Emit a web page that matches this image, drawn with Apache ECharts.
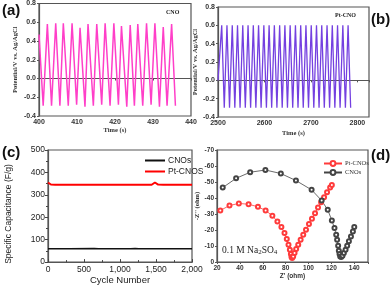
<!DOCTYPE html>
<html><head><meta charset="utf-8">
<script src="https://cdn.jsdelivr.net/npm/echarts@6/dist/echarts.min.js"></script>
<style>html,body{margin:0;padding:0;background:#fff}#c{width:392px;height:286px}</style>
</head><body><div id="c"></div>
<script>
// ---- Panel (a): CNO galvanostatic charge/discharge (turning points) ----
const aTime = [400, 401.1, 402.2, 403.3, 404.4, 405.5, 406.4, 407.7, 408.7, 409.9, 410.8, 412.1, 412.9, 414.3, 415.2, 416.5, 417.4, 418.7, 419.7, 420.9, 421.7, 423.1, 424.0, 425.1, 426.0, 427.3, 428.3, 429.5, 430.5, 431.7, 432.7, 433.7, 434.9, 435.9];
const aPot  = [0.47, -0.29, 0.58, -0.29, 0.59, -0.29, 0.59, -0.29, 0.59, -0.28, 0.54, -0.30, 0.58, -0.29, 0.58, -0.28, 0.59, -0.29, 0.59, -0.28, 0.56, -0.30, 0.57, -0.29, 0.58, -0.29, 0.59, -0.28, 0.59, -0.30, 0.55, -0.29, 0.58, -0.29];

// ---- Panel (b): Pt-CNO charge/discharge (turning points) ----
const bTime = [2500, 2508, 2513.5, 2519.3, 2524.8, 2530.7, 2536.2, 2542, 2547.5, 2553.3, 2558.8, 2564.7, 2570.2, 2576, 2581.5, 2587.3, 2592.8, 2598.7, 2604.2, 2610, 2615.5, 2621.3, 2626.8, 2632.7, 2638.2, 2644, 2649.5, 2655.3, 2660.8, 2666.7, 2672.2, 2678, 2683.5, 2689.3, 2694.8, 2700.7, 2706.2, 2712, 2717.5, 2723.3, 2728.8, 2734.7, 2740.2, 2746, 2751.5, 2757.3, 2762.8, 2768.7, 2774.2, 2780, 2785.5];
const bPot  = [0.00, 0.60, -0.30, 0.60, -0.30, 0.60, -0.30, 0.60, -0.30, 0.60, -0.30, 0.60, -0.30, 0.60, -0.30, 0.60, -0.30, 0.60, -0.30, 0.60, -0.30, 0.60, -0.30, 0.60, -0.30, 0.60, -0.30, 0.60, -0.30, 0.60, -0.30, 0.60, -0.30, 0.60, -0.30, 0.60, -0.30, 0.60, -0.30, 0.60, -0.30, 0.60, -0.30, 0.60, -0.30, 0.60, -0.30, 0.60, -0.30, 0.60, -0.30];

// ---- Panel (c): cycling stability ----
const cCyclesCNO = [0, 300, 640, 660, 700, 1080, 1100, 1150, 1210, 1230, 1260, 2000];
const cCapCNO    = [60, 60, 61, 62, 60, 60, 62, 60, 61, 63, 60, 60];
const cCyclesPt  = [0, 15, 40, 100, 500, 1000, 1440, 1465, 1485, 1505, 1530, 1600, 2000];
const cCapPt     = [355, 353, 346, 345, 345, 345, 345, 350, 355, 351, 346, 345, 345];

// ---- Panel (d): Nyquist plots ----
const dZrePt  = [22.9, 30.9, 39.1, 47.6, 55.8, 62.5, 68.4, 72.8, 76.3, 79.0, 81.0, 82.5, 83.7, 84.6, 85.1, 85.7, 86.6, 87.8, 89.2, 91.0, 93.1, 95.4, 97.8, 100.4, 103.0, 105.7, 108.3, 111.0, 113.6, 116.2, 118.9, 120.4];
const dZimPt  = [-32.2, -35.3, -36.6, -36.1, -34.5, -32.2, -28.9, -25.3, -21.8, -18.1, -14.3, -10.8, -7.7, -5.0, -3.1, -2.5, -3.5, -5.6, -8.1, -10.8, -13.9, -17.0, -20.1, -23.7, -27.0, -30.5, -34.1, -37.4, -40.5, -43.6, -46.5, -48.2];
const dZreCNO = [25.0, 36.7, 49.0, 62.3, 75.8, 89.0, 102.7, 111.5, 116.8, 120.4, 122.7, 124.2, 125.0, 125.9, 126.5, 127.1, 127.7, 128.6, 129.7, 130.9, 132.4, 133.8, 135.3, 137.1, 138.8, 140.0];
const dZimCNO = [-46.5, -52.3, -56.1, -57.5, -55.3, -50.9, -45.1, -38.4, -32.6, -26.0, -21.2, -17.0, -13.9, -10.2, -7.1, -5.0, -3.5, -3.1, -3.9, -5.6, -7.7, -10.2, -12.9, -16.0, -19.1, -21.8];

const zip = (x, y) => x.map((v, i) => [v, y[i]]);

const serif = 'Liberation Serif';
const sans = 'Liberation Sans';
const gridBox = {show: true, borderColor: '#555', borderWidth: 1.2, backgroundColor: 'transparent'};

function axisBase(extra) {
  return Object.assign({
    type: 'value',
    axisLine: {show: true, lineStyle: {color: '#555', width: 1.2}},
    axisTick: {show: true, length: 2, lineStyle: {color: '#555'}},
    splitLine: {show: false}
  }, extra);
}

const chart = echarts.init(document.getElementById('c'), null, {renderer: 'canvas'});
chart.setOption({
  animation: false,
  grid: [
    Object.assign({left: 39, top: 3, width: 152, height: 113}, gridBox),
    Object.assign({left: 218, top: 7, width: 151, height: 110}, gridBox),
    Object.assign({left: 48, top: 150, width: 144, height: 113}, gridBox),
    Object.assign({left: 217, top: 150, width: 151, height: 112}, gridBox)
  ],
  xAxis: [
    axisBase({gridIndex: 0, min: 400, max: 440, interval: 10,
      axisLabel: {fontSize: 7, fontWeight: 'bold', fontFamily: sans, color: '#333', margin: 3},
      name: 'Time (s)', nameLocation: 'middle', nameGap: 10,
      nameTextStyle: {fontSize: 6.5, fontWeight: 'bold', fontFamily: serif, color: '#333'}}),
    axisBase({gridIndex: 1, min: 2500, max: 2825, interval: 100,
      axisLabel: {fontSize: 7, fontWeight: 'bold', fontFamily: sans, color: '#333', margin: 3,
        formatter: v => (v % 100 === 0 ? String(v) : '')},
      name: 'Time (s)', nameLocation: 'middle', nameGap: 13,
      nameTextStyle: {fontSize: 6.5, fontWeight: 'bold', fontFamily: serif, color: '#333'}}),
    axisBase({gridIndex: 2, min: 0, max: 2000, interval: 500,
      axisTick: {show: true, inside: true, length: 3, lineStyle: {color: '#444'}},
      minorTick: {show: true, splitNumber: 2, length: 2, lineStyle: {color: '#444'}},
      axisLabel: {fontSize: 8.5, fontFamily: sans, color: '#222', margin: 3},
      name: 'Cycle Number', nameLocation: 'middle', nameGap: 11,
      nameTextStyle: {fontSize: 9.5, fontFamily: sans, color: '#222', verticalAlign: 'top'}}),
    axisBase({gridIndex: 3, min: 20, max: 152, interval: 20,
      axisLabel: {fontSize: 6.5, fontWeight: 'bold', fontFamily: sans, color: '#333', margin: 3,
        formatter: v => (v % 20 === 0 ? String(v) : '')},
      name: "Z' (ohm)", nameLocation: 'middle', nameGap: 11,
      nameTextStyle: {fontSize: 6.5, fontWeight: 'bold', fontFamily: sans, color: '#333', verticalAlign: 'top'}})
  ],
  yAxis: [
    axisBase({gridIndex: 0, min: -0.4, max: 0.8, interval: 0.2,
      axisLabel: {fontSize: 7, fontWeight: 'bold', fontFamily: sans, color: '#333', margin: 3,
        formatter: v => v.toFixed(1)},
      name: 'Potential/V vs. Ag/AgCl', nameLocation: 'middle', nameGap: 20,
      nameTextStyle: {fontSize: 6.5, fontWeight: 'bold', fontFamily: serif, color: '#333'}}),
    axisBase({gridIndex: 1, min: -0.4, max: 0.8, interval: 0.2,
      axisLabel: {fontSize: 7, fontWeight: 'bold', fontFamily: sans, color: '#333', margin: 3,
        formatter: v => v.toFixed(1)},
      name: 'Potential/V vs. Ag/AgCl', nameLocation: 'middle', nameGap: 18,
      nameTextStyle: {fontSize: 6.5, fontWeight: 'bold', fontFamily: serif, color: '#333'}}),
    axisBase({gridIndex: 2, min: 0, max: 500, interval: 100,
      minorTick: {show: true, splitNumber: 2, length: 2, lineStyle: {color: '#444'}},
      axisTick: {show: true, length: 3, lineStyle: {color: '#444'}},
      axisLabel: {fontSize: 8.5, fontFamily: sans, color: '#222', margin: 3}}),
    axisBase({gridIndex: 3, min: -70, max: 0, interval: 10, inverse: true,
      axisLabel: {fontSize: 6.5, fontWeight: 'bold', fontFamily: sans, color: '#333', margin: 3},
      name: "-Z'' (ohm)", nameLocation: 'middle', nameGap: 13,
      nameTextStyle: {fontSize: 6.5, fontWeight: 'bold', fontFamily: serif, color: '#333'}})
  ],
  legend: [
    {left: 140, top: 151, orient: 'vertical', itemGap: 2, itemWidth: 20, itemHeight: 2, icon: 'rect',
      data: ['CNOs', 'Pt-CNOS'],
      textStyle: {fontSize: 8.5, fontFamily: sans, color: '#222', padding: [0, 0, 0, -2]}},
    {left: 318, top: 155, orient: 'vertical', itemGap: 2, itemWidth: 18, itemHeight: 6,
      data: ['Pt-CNOs', 'CNOs '],
      textStyle: {fontSize: 6.5, fontFamily: serif, color: '#333', padding: [0, 0, 0, -2]}}
  ],
  series: [
    {type: 'line', xAxisIndex: 0, yAxisIndex: 0, data: zip(aTime, aPot), showSymbol: false,
      lineStyle: {color: '#ff3fc8', width: 1.5}, itemStyle: {color: '#ff3fc8'}},
    {type: 'line', xAxisIndex: 1, yAxisIndex: 1, data: zip(bTime, bPot), showSymbol: false,
      lineStyle: {color: '#7440e0', width: 1.3}, itemStyle: {color: '#7440e0'}},
    {name: 'CNOs', type: 'line', xAxisIndex: 2, yAxisIndex: 2, data: zip(cCyclesCNO, cCapCNO), showSymbol: false,
      symbol: 'none', lineStyle: {color: '#111', width: 1.5}, itemStyle: {color: '#111'}},
    {name: 'Pt-CNOS', type: 'line', xAxisIndex: 2, yAxisIndex: 2, data: zip(cCyclesPt, cCapPt), showSymbol: false,
      symbol: 'none', lineStyle: {color: '#ff0000', width: 2}, itemStyle: {color: '#ff0000'}},
    {name: 'Pt-CNOs', type: 'line', xAxisIndex: 3, yAxisIndex: 3, data: zip(dZrePt, dZimPt),
      symbol: 'emptyCircle', symbolSize: 4, lineStyle: {color: '#ff3b3b', width: 0.8},
      itemStyle: {color: '#ff3b3b', borderWidth: 0.8}},
    {name: 'CNOs ', type: 'line', xAxisIndex: 3, yAxisIndex: 3, data: zip(dZreCNO, dZimCNO),
      symbol: 'emptyCircle', symbolSize: 4, lineStyle: {color: '#444', width: 0.8},
      itemStyle: {color: '#444', borderWidth: 0.8}}
  ],
  graphic: [
    {type: 'text', left: 2, top: 3, style: {text: '(a)', font: 'bold 15px "Liberation Sans"', fill: '#111'}},
    {type: 'text', left: 371, top: 12, style: {text: '(b)', font: 'bold 15px "Liberation Sans"', fill: '#111'}},
    {type: 'text', left: 2, top: 145, style: {text: '(c)', font: 'bold 15px "Liberation Sans"', fill: '#111'}},
    {type: 'text', left: 371, top: 148, style: {text: '(d)', font: 'bold 15px "Liberation Sans"', fill: '#111'}},
    {type: 'text', left: 166, top: 9, style: {text: 'CNO', font: 'bold 6px "Liberation Serif"', fill: '#222'}},
    {type: 'text', left: 335, top: 12, style: {text: 'Pt-CNO', font: 'bold 6px "Liberation Serif"', fill: '#222'}},
    {type: 'text', x: 9, y: 214, rotation: Math.PI / 2, style: {
      text: 'Specific Capacitance (F/g)', font: '8.5px "Liberation Sans"', fill: '#222',
      align: 'center', verticalAlign: 'middle'}},
    {type: 'text', left: 222, top: 245, style: {
      text: '0.1 M Na{s|2}SO{s|4}',
      font: '9.5px "Liberation Serif"', fill: '#222',
      rich: {s: {fontSize: 7, fontFamily: serif, verticalAlign: 'bottom', padding: [5, 0, 0, 0], fill: '#222'}}
    }}
  ]
});
</script></body></html>
